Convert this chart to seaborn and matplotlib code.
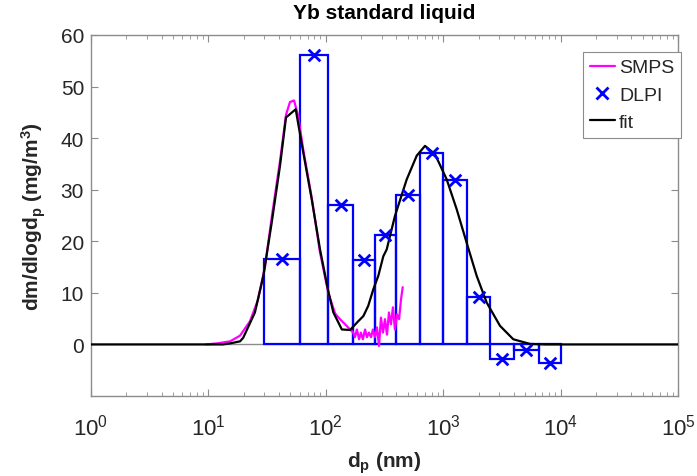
import numpy as np
import pandas as pd
import matplotlib
matplotlib.use("Agg")
import matplotlib.pyplot as plt
from matplotlib.lines import Line2D
from matplotlib.ticker import LogLocator, LogFormatterMathtext, FixedLocator, NullFormatter
import seaborn as sns

# ---------------- data ----------------
# SMPS measurement (dp in nm, dm/dlogdp in mg/m3)
smps_dp = [9.5, 11.8, 15.3, 18.6, 22.6, 26.3, 30.3, 34.8, 40.7, 45.8, 49.5, 53.6, 58, 64,
           75.8, 89, 105, 120, 132, 146, 161, 171, 177, 184, 192, 199, 207, 216, 224, 233,
           243, 252, 262, 273, 284, 295, 307, 319, 332, 345, 359, 373, 388, 404, 421, 437, 452]
smps_val = [0, 0.2, 0.6, 1.7, 4.5, 8.5, 15, 25, 35.5, 44.5, 47.0, 47.3, 44.5, 38,
            28.5, 18, 10, 6, 4.9, 3.9, 2.9, 2.3, 1.4, 2.9, 1.0, 2.3, 1.0, 2.9, 1.4, 2.3,
            1.4, 2.9, 1.4, 3.3, -0.3, 5.2, 2.3, 4.9, 1.9, 6.2, 3.9, 7.2, 2.9, 5.8, 4.9, 8.7, 11.1]

# DLPI impactor stages: bin edges (nm) and values
dlpi_edges = [30, 60, 105, 170, 260, 400, 640, 1000, 1600, 2500, 4000, 6500, 10000]
dlpi_val = [16.6, 56.1, 27.0, 16.3, 21.2, 28.9, 37.2, 31.9, 9.1, -2.9, -1.0, -3.6]

# bimodal fit
fit_dp = [1, 13.3, 15.3, 18.6, 19.8, 24.9, 29.4, 34.6, 40.7, 45.8, 55.4, 64.3, 75.8, 89.3,
          105, 116, 137, 161, 189, 209, 230, 254, 280, 309, 330, 388, 489, 595, 700, 851,
          1071, 1303, 1585, 1928, 2348, 3048, 3954, 5486, 7362, 100000]
fit_val = [0, 0, 0.2, 0.6, 1.3, 6.2, 13.3, 23.6, 34.6, 44.0, 45.6, 37.2, 28.2, 18.4,
           10.3, 6.2, 2.9, 2.8, 4.5, 5.5, 7.5, 10.7, 13.3, 17.1, 18.4, 24.9, 32.0, 36.6, 38.5, 36.9,
           32.0, 26.2, 19.7, 13.3, 8.1, 3.6, 1.0, 0.1, 0, 0]

title = "Yb standard liquid"
labels = ["SMPS", "DLPI", "fit"]

# ---------------- style ----------------
sns.set_style("ticks")
plt.rcParams["font.family"] = ["Liberation Sans", "DejaVu Sans"]
plt.rcParams["mathtext.fontset"] = "custom"
plt.rcParams["mathtext.rm"] = "Liberation Sans"
plt.rcParams["mathtext.it"] = "Liberation Sans:italic"
plt.rcParams["mathtext.bf"] = "Liberation Sans:bold"

BLUE = "#0000ff"
MAG = "#ff00ff"
GRAY = "#8c8c8c"
TXT = "#262626"

fig = plt.figure(figsize=(6.97, 4.77), dpi=100)
ax = fig.add_axes([91 / 697, 1 - 397 / 477, (678 - 91) / 697, (397 - 36) / 477])

smps_df = pd.DataFrame({"dp": smps_dp, "val": smps_val})
fit_df = pd.DataFrame({"dp": fit_dp, "val": fit_val})
edges = np.array(dlpi_edges, dtype=float)
dlpi_df = pd.DataFrame({"mid": np.sqrt(edges[:-1] * edges[1:]), "val": dlpi_val})

ax.axhline(0, color=GRAY, lw=1.0, zorder=1)
ax.bar(edges[:-1], dlpi_val, width=np.diff(edges), align="edge", fill=False,
       edgecolor=BLUE, linewidth=1.6, zorder=2)
sns.lineplot(data=smps_df, x="dp", y="val", ax=ax, color=MAG, lw=1.6,
             estimator=None, sort=False, zorder=3)
sns.lineplot(data=fit_df, x="dp", y="val", ax=ax, color="black", lw=1.6,
             estimator=None, sort=False, zorder=4)
sns.scatterplot(data=dlpi_df, x="mid", y="val", ax=ax, marker="x", color=BLUE,
                s=70, linewidth=2, zorder=5)

ax.set_xscale("log")
ax.set_xlim(1, 1e5)
ax.set_ylim(-10, 60)
ax.xaxis.set_major_locator(LogLocator(base=10, numticks=10))
ax.xaxis.set_major_formatter(LogFormatterMathtext())
ax.xaxis.set_minor_locator(LogLocator(base=10, subs=np.arange(2, 10), numticks=20))
ax.xaxis.set_minor_formatter(NullFormatter())
ax.yaxis.set_major_locator(FixedLocator([0, 10, 20, 30, 40, 50, 60]))

for s in ax.spines.values():
    s.set_visible(True)
    s.set_color(GRAY)
    s.set_linewidth(1.0)

ax.tick_params(axis="both", which="major", direction="in", length=5, width=0.8,
               color=GRAY, labelcolor=TXT, labelsize=15, top=True, right=True)
ax.tick_params(axis="x", which="minor", direction="in", length=3, width=0.6,
               color=GRAY, top=True, bottom=True)
ax.tick_params(axis="x", which="major", pad=13, labelsize=16)
ax.tick_params(axis="y", which="major", pad=5)

ax.set_xlabel(r"d$_\mathbf{p}$ (nm)", fontsize=15, fontweight="bold", color=TXT, labelpad=7)
ax.set_ylabel(r"dm/dlogd$_\mathbf{p}$ (mg/m$^\mathbf{3}$)", fontsize=15,
              fontweight="bold", color=TXT, labelpad=9)
ax.set_title(title, fontsize=15, fontweight="bold", color="black", pad=12)

handles = [
    Line2D([], [], color=MAG, lw=1.6),
    Line2D([], [], color=BLUE, marker="x", ls="none", markersize=8, mew=2),
    Line2D([], [], color="black", lw=1.6),
]
leg = ax.legend(handles, labels, loc="upper right", bbox_to_anchor=(1.005, 0.953),
                borderaxespad=0, frameon=True, fancybox=False, fontsize=14,
                handlelength=1.3, handletextpad=0.2, borderpad=0.35, labelspacing=0.5)
leg.get_frame().set_edgecolor(GRAY)
leg.get_frame().set_linewidth(0.8)
leg.get_frame().set_alpha(1)

fig.savefig("out.png", dpi=100)
